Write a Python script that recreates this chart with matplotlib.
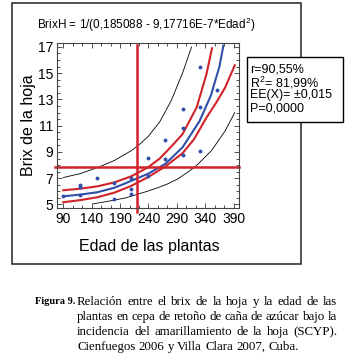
import numpy as np
import matplotlib
matplotlib.use('Agg')
from matplotlib import pyplot as plt
from matplotlib.ticker import MultipleLocator, FixedLocator
from matplotlib.patches import Rectangle

#####

# observed points (Edad, Brix)
edad_pts = [90, 120, 120, 120, 150, 180, 180, 210, 210, 210, 240, 240,
            270, 270, 300, 300, 300, 330, 330, 330, 360]
brix_pts = [5.62, 6.5, 6.3, 5.7, 7.0, 6.6, 5.45, 7.0, 6.2, 5.8, 8.55, 7.2,
            9.9, 8.5, 12.3, 10.85, 8.75, 15.5, 12.4, 9.05, 13.7]

# fitted curve
fit_x = [90, 120, 150, 180, 210, 240, 270, 300, 330, 350, 365, 372]
fit_y = [5.62, 5.75, 5.93, 6.27, 6.8, 7.35, 8.1, 9.35, 11.35, 13.3, 15.5, 17.1]

# confidence limits (red)
conf_up_x = [90, 120, 150, 180, 210, 240, 260, 280, 300, 325, 342, 352]
conf_up_y = [6.08, 6.2, 6.38, 6.68, 7.15, 7.85, 8.5, 9.4, 10.35, 12.4, 14.9, 16.9]
conf_lo_x = [90, 120, 150, 180, 210, 240, 270, 300, 320, 342, 360, 375, 392]
conf_lo_y = [5.17, 5.33, 5.55, 5.9, 6.42, 7.1, 7.9, 8.9, 9.95, 11.6, 12.8, 13.9, 15.6]

# prediction limits (black)
pred_up_x = [90, 120, 150, 180, 210, 225, 240, 260, 280, 300, 316]
pred_up_y = [7.05, 7.35, 7.8, 8.35, 9.1, 9.6, 10.2, 11.3, 12.9, 15.0, 17.0]
pred_lo_x = [143, 170, 200, 234, 255, 273, 292, 322, 351, 375, 392]
pred_lo_y = [5.05, 5.25, 5.5, 5.95, 6.25, 6.55, 6.95, 7.85, 9.1, 10.6, 12.0]

edad_ref = 220
brix_ref = 7.84

xticks = [90, 140, 190, 240, 290, 340, 390]
yticks = [5, 7, 9, 11, 13, 15, 17]

title = 'BrixH = 1/(0,185088 - 9,17716E-7*Edad$^{2}$)'
stats = ['r=90,55%', 'R$^{2}$= 81,99%', 'EE(X)= \u00b10,015', 'P=0,0000']
caption = ['Relación entre el brix de la hoja y la edad de las',
           'plantas en cepa de retoño de caña de azúcar bajo la',
           'incidencia del amarillamiento de la hoja (SCYP).',
           'Cienfuegos 2006 y Villa Clara 2007, Cuba.']

#####

plt.rcParams['font.family'] = 'Liberation Sans'
plt.rcParams['mathtext.fontset'] = 'custom'
plt.rcParams['mathtext.rm'] = 'Liberation Sans'

red = '#d2232a'
blue = '#2f4fa8'

W, H = 349, 353
fig = plt.figure(figsize=(W/100., H/100.), dpi=100)
fig.patch.set_facecolor('white')

# outer frame
fig.patches.append(Rectangle((12/W, 1-264/H), 289/W, 261/H, transform=fig.transFigure,
                             fill=False, edgecolor='#222222', linewidth=1.1))

ax = fig.add_axes([57.3/W, 1-208/H, 182/W, 165.3/H])
ax.set_xlim(79.5, 400)
ax.set_ylim(4.73, 17.32)

ax.plot(pred_up_x, pred_up_y, color='black', lw=0.6)
ax.plot(pred_lo_x, pred_lo_y, color='black', lw=0.6)
ax.plot(conf_up_x, conf_up_y, color=red, lw=1.5)
ax.plot(conf_lo_x, conf_lo_y, color=red, lw=1.5)
ax.plot(fit_x, fit_y, color=blue, lw=1.5)
ax.plot(edad_pts, brix_pts, 'o', color=blue, markersize=2.8, markeredgewidth=0)

ax.axhline(brix_ref, xmin=-0.015, xmax=1.0, color=red, lw=1.8, clip_on=False)
ax.axvline(edad_ref, ymin=-0.025, ymax=0.985, color=red, lw=1.8, clip_on=False)

ax.xaxis.set_major_locator(FixedLocator(xticks))
ax.yaxis.set_major_locator(FixedLocator(yticks))
ax.xaxis.set_minor_locator(FixedLocator(np.arange(90, 400, 50/3.)))
ax.yaxis.set_minor_locator(MultipleLocator(0.5))
ax.tick_params(which='both', direction='in', top=True, right=True, labelsize=10, pad=3,
               width=0.6, color='#333333')
ax.tick_params(which='major', length=3.5)
ax.tick_params(which='minor', length=2)
for sp in ax.spines.values():
    sp.set_linewidth(0.8)
    sp.set_color('#444444')

fig.text(146/W, 1-25/H, title, ha='center', va='center', fontsize=8.5)
fig.text(29/W, 1-125/H, 'Brix de la hoja', rotation=90, ha='center', va='center', fontsize=11.5)
fig.text(149.5/W, 1-246/H, 'Edad de las plantas', ha='center', va='center', fontsize=11.5)

# stats box
fig.patches.append(Rectangle((247/W, 1-122/H), 96/W, 65/H, transform=fig.transFigure,
                             facecolor='white', edgecolor='black', linewidth=1.0, zorder=5))
for i, s in enumerate(stats):
    fig.text(250/W, 1-(70+12.7*i)/H, s, ha='left', va='center', fontsize=9, zorder=6)

# caption (justified like the journal layout)
fig.text(35/W, 1-302/H, 'Figura 9.', ha='left', va='center', fontsize=7.5,
         family='Liberation Serif', fontweight='bold')
fig.canvas.draw()
rend = fig.canvas.get_renderer()
x_left, x_right = 77, 337
fs_cap = 9.3
for i, line in enumerate(caption):
    yy = 1-(302+15*i)/H
    words = line.split(' ')
    objs = [fig.text(0, yy, w, ha='left', va='center', fontsize=fs_cap, family='Liberation Serif')
            for w in words]
    widths = [o.get_window_extent(rend).width for o in objs]
    if i < len(caption)-1:
        gap = (x_right - x_left - sum(widths)) / (len(words)-1)
    else:
        gap = 0.25*fs_cap*100/72.
    xx = x_left
    for o, wd in zip(objs, widths):
        o.set_x(xx/W)
        xx += wd + gap

fig.savefig('out.png', dpi=100)
